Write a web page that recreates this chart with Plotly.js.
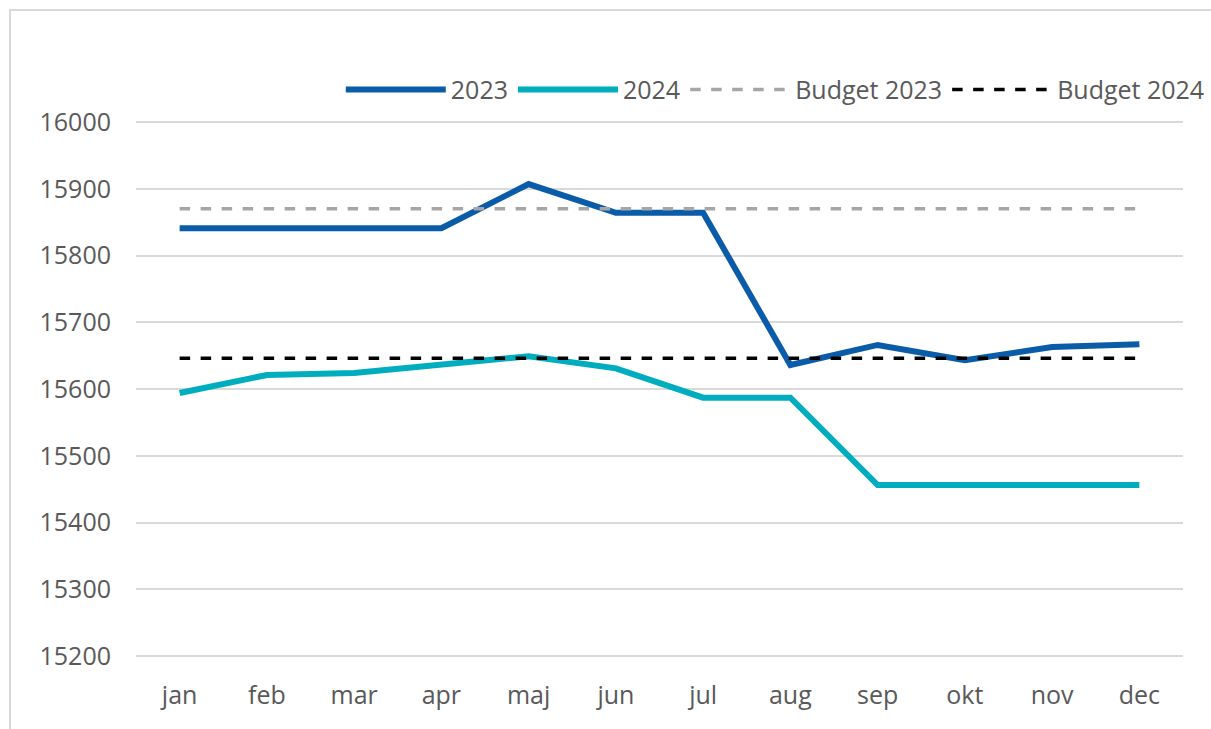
<!DOCTYPE html>
<html>
<head>
<meta charset="utf-8">
<script src="https://cdn.plot.ly/plotly-3.0.1.min.js"></script>
<style>
html,body{margin:0;padding:0;width:1211px;height:729px;overflow:hidden;background:#fff;}
#frame{position:absolute;left:9px;top:9px;width:1300px;height:800px;border:2px solid #d9d9d9;pointer-events:none;z-index:5;}
#chart{position:absolute;left:0;top:0;width:1211px;height:729px;}
</style>
</head>
<body>
<div id="chart"></div>
<div id="frame"></div>
<script>
const months = ["jan","feb","mar","apr","maj","jun","jul","aug","sep","okt","nov","dec"];
const values2023 = [15841,15841,15841,15841,15907,15864,15864,15636,15666,15643,15663,15667];
const values2024 = [15594,15621,15624,15637,15649,15631,15587,15587,15456,15456,15456,15456];
const budget2023 = [15870,15870,15870,15870,15870,15870,15870,15870,15870,15870,15870,15870];
const budget2024 = [15646,15646,15646,15646,15646,15646,15646,15646,15646,15646,15646,15646];
const yTicks = [15200,15300,15400,15500,15600,15700,15800,15900,16000];

const traces = [
  {x: months, y: values2023, name: "2023", type: "scatter", mode: "lines",
   line: {color: "#0A5CA8", width: 6}},
  {x: months, y: values2024, name: "2024", type: "scatter", mode: "lines",
   line: {color: "#00ADBF", width: 6}},
  {x: months, y: budget2023, name: "Budget 2023", type: "scatter", mode: "lines",
   line: {color: "#A6A6A6", width: 3.5, dash: "dash"}},
  {x: months, y: budget2024, name: "Budget 2024", type: "scatter", mode: "lines",
   line: {color: "#000000", width: 3.5, dash: "dash"}}
];

const layout = {
  width: 1211, height: 729,
  margin: {l: 136, r: 28, t: 118, b: 69, autoexpand: false},
  paper_bgcolor: "#fff", plot_bgcolor: "#fff",
  font: {family: "Open Sans, sans-serif", color: "#595959", size: 25},
  showlegend: true,
  legend: {orientation: "h", xref: "container", x: 0.999, xanchor: "right",
           yref: "container", y: 0.877, yanchor: "middle",
           font: {size: 25, color: "#595959"}, traceorder: "normal", itemwidth: 100, bgcolor: "rgba(0,0,0,0)"},
  xaxis: {type: "category", range: [-0.5, 11.5], showgrid: false, zeroline: false,
          showline: false, ticks: "", tickfont: {size: 25, color: "#595959"}, ticklabelstandoff: 18},
  yaxis: {range: [15194, 16006], tickvals: yTicks, ticktext: yTicks.map(String),
          showgrid: true, gridcolor: "#D9D9D9", gridwidth: 2, zeroline: false,
          showline: false, ticks: "", tickfont: {size: 25, color: "#595959"}, ticklabelstandoff: 24}
};

Plotly.newPlot("chart", traces, layout, {displayModeBar: false, staticPlot: true});
</script>
</body>
</html>
